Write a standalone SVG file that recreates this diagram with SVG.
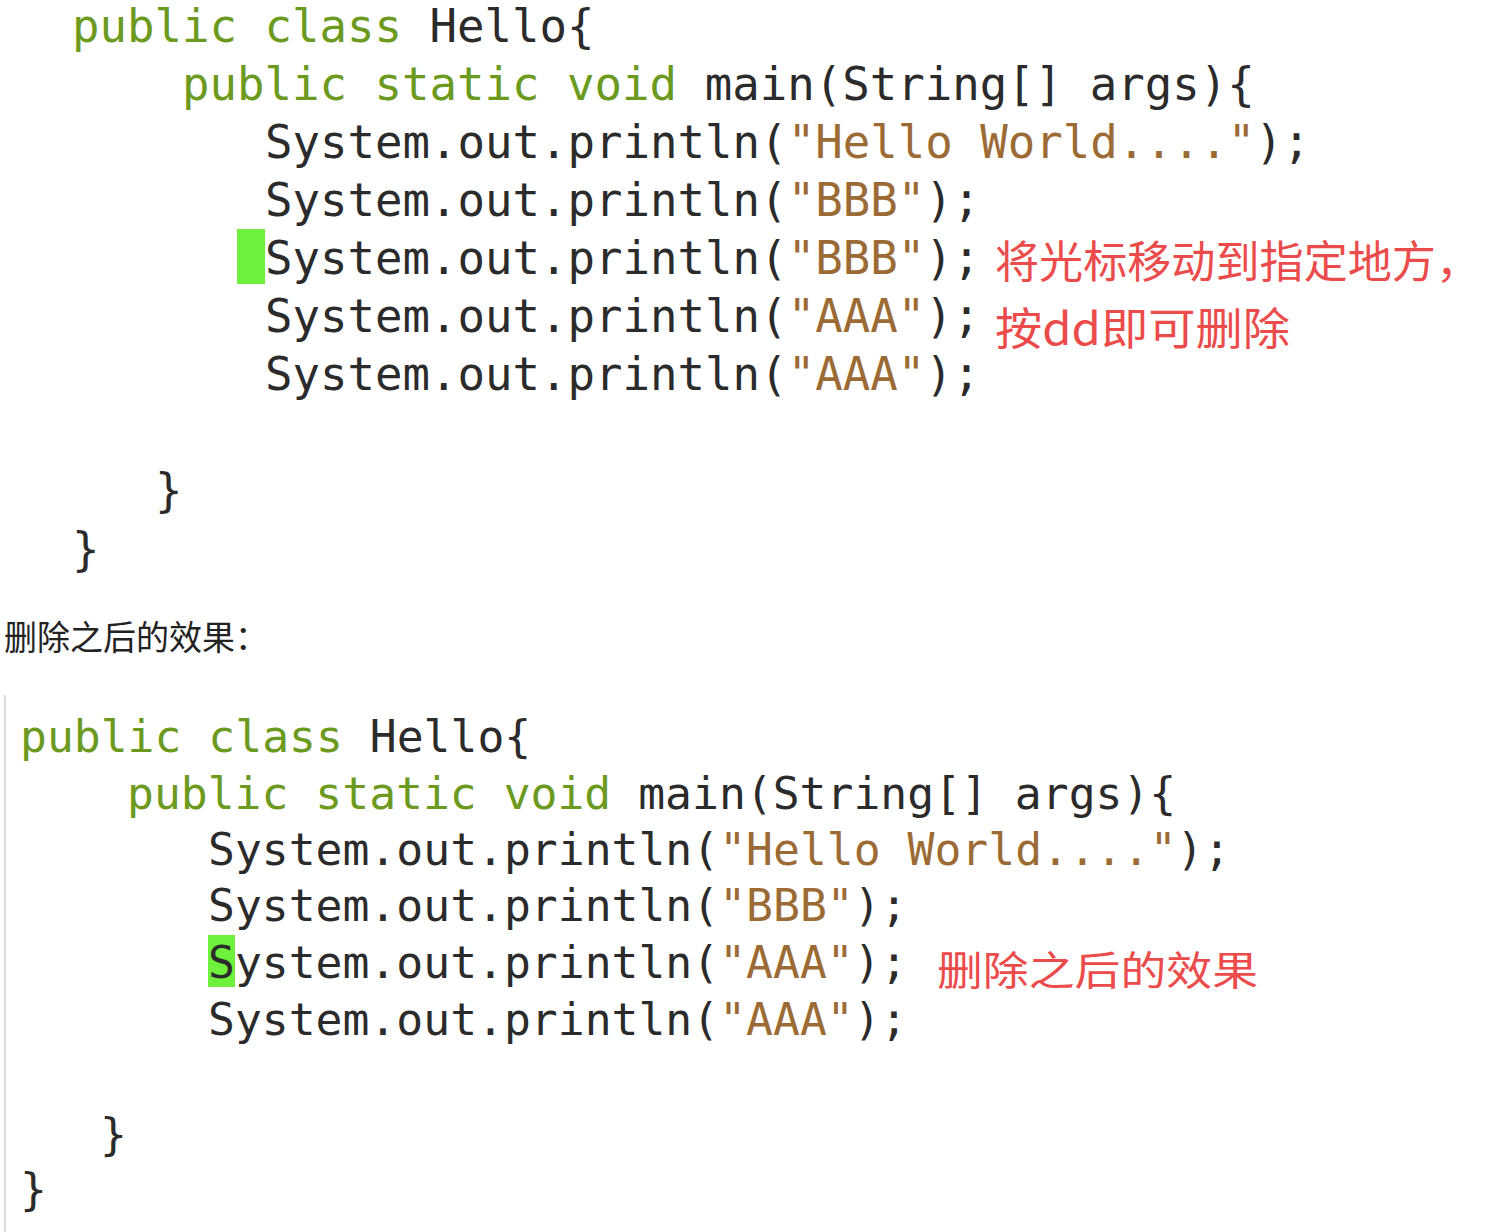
<svg xmlns="http://www.w3.org/2000/svg" width="1492" height="1232" viewBox="0 0 1492 1232">
<style>
.c{font-family:"DejaVu Sans Mono",monospace;fill:#2b2b2b;white-space:pre}
.t{font-size:45.7px}.b{font-size:44.7px}
.k{fill:#6b9a1e}.s{fill:#9c6b35}
.r{font-family:"Noto Sans CJK SC",sans-serif;fill:#ec4b4b}
</style>
<rect width="1492" height="1232" fill="#fff"/>
<g id="top">
<rect x="237" y="229" width="28" height="55" fill="#6ef03c"/>
<text class="c t" x="72" y="42"><tspan class="k">public class </tspan>Hello{</text>
<text class="c t" x="182" y="100"><tspan class="k">public static void </tspan>main(String[] args){</text>
<text class="c t" x="265" y="158">System.out.println(<tspan class="s">"Hello World...."</tspan>);</text>
<text class="c t" x="265" y="216">System.out.println(<tspan class="s">"BBB"</tspan>);</text>
<text class="c t" x="265" y="274">System.out.println(<tspan class="s">"BBB"</tspan>);</text>
<text class="c t" x="265" y="332">System.out.println(<tspan class="s">"AAA"</tspan>);</text>
<text class="c t" x="265" y="390">System.out.println(<tspan class="s">"AAA"</tspan>);</text>
<text class="c t" x="155" y="506">}</text>
<text class="c t" x="72" y="565">}</text>
<text class="r" x="995" y="278" font-size="44" textLength="485" lengthAdjust="spacingAndGlyphs">将光标移动到指定地方，</text>
<text class="r" x="995" y="345" font-size="44" textLength="295" lengthAdjust="spacingAndGlyphs">按dd即可删除</text>
</g>
<text x="4" y="650" font-family="Noto Sans CJK SC,sans-serif" font-size="34" fill="#222" textLength="264" lengthAdjust="spacingAndGlyphs">删除之后的效果：</text>
<g id="bottom">
<line x1="5" y1="695" x2="5" y2="1232" stroke="#ddd" stroke-width="2"/>
<rect x="208" y="935" width="27" height="52" fill="#6ef03c"/>
<text class="c b" x="20" y="752"><tspan class="k">public class </tspan>Hello{</text>
<text class="c b" x="127" y="809"><tspan class="k">public static void </tspan>main(String[] args){</text>
<text class="c b" x="208" y="865">System.out.println(<tspan class="s">"Hello World...."</tspan>);</text>
<text class="c b" x="208" y="921">System.out.println(<tspan class="s">"BBB"</tspan>);</text>
<text class="c b" x="208" y="978">System.out.println(<tspan class="s">"AAA"</tspan>);</text>
<text class="c b" x="208" y="1035">System.out.println(<tspan class="s">"AAA"</tspan>);</text>
<text class="c b" x="100" y="1150">}</text>
<text class="c b" x="20" y="1205">}</text>
<text class="r" x="937" y="985" font-size="40" textLength="321" lengthAdjust="spacingAndGlyphs">删除之后的效果</text>
</g>
</svg>
